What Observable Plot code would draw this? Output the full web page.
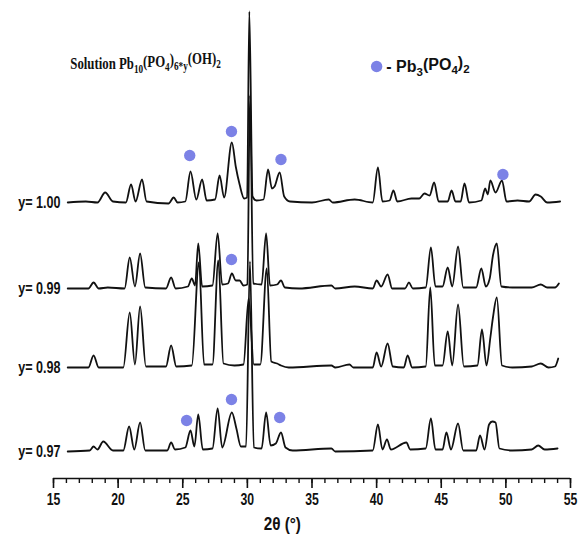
<!DOCTYPE html>
<html>
<head>
<meta charset="utf-8">
<script src="https://cdn.jsdelivr.net/npm/d3@7"></script>
<script src="https://cdn.jsdelivr.net/npm/@observablehq/plot@0.6"></script>
<style>
  html, body { margin: 0; padding: 0; background: #fff; }
  #chart { width: 580px; height: 546px; }
</style>
</head>
<body>
<div id="chart"></div>
<script>
// ---- Data (2θ in degrees, intensity in arbitrary units above each trace's baseline) ----
const sampleLabels = ["y= 1.00", "y= 0.99", "y= 0.98", "y= 0.97"];

const trace100 = [
  [16.1,0],[17.5,1],[18.4,0],[19.0,10],[19.6,1],[20.6,0],[21.0,18],[21.35,1],[21.85,23],[22.2,1],
  [23.9,-1],[24.3,5],[24.6,0],[25.2,1],[25.6,31],[26.05,3],[26.5,23],[26.85,2],[27.5,3],[27.85,27],
  [28.2,5],[28.8,60],[29.1,36],[29.4,18],[29.75,4],[29.98,5],[30.15,191],[30.4,6],[30.7,2],[31.25,3],
  [31.6,33],[31.9,14],[32.1,16],[32.5,30],[32.85,6],[33.3,1],[35.0,0],[36.3,3],[36.6,0],[38.3,3],
  [39.7,0],[40.1,35],[40.45,1],[41.0,2],[41.3,12],[41.6,1],[42.7,4],[43.3,4],[43.7,9],[44.1,7],
  [44.45,20],[44.8,1],[45.5,1],[45.8,12],[46.1,1],[46.5,1],[46.8,19],[47.15,0],[48.1,2],[48.4,14],
  [48.6,8],[48.8,22],[49.2,10],[49.7,22],[50.05,1],[50.9,2],[51.8,1],[52.3,8],[52.7,6],[53.2,0],[54.2,1]
];
const trace099 = [
  [16.1,0],[17.7,0],[18.1,6],[18.5,0],[19.2,1],[20.5,0],[20.9,31],[21.3,2],[21.7,35],[22.1,1],
  [23.7,0],[24.1,11],[24.45,0],[25.4,2],[25.7,10],[25.95,3],[26.2,45],[26.5,2],[27.3,3],[27.7,55],
  [28.05,4],[28.5,5],[28.8,15],[29.1,8],[29.4,8],[29.7,3],[30.0,4],[30.2,193],[30.45,5],[31.1,4],
  [31.45,55],[31.75,3],[32.3,4],[32.6,8],[32.9,1],[34.0,0],[36.5,3],[36.8,0],[38.3,2],[39.7,0],
  [40.0,8],[40.35,2],[40.85,14],[41.2,0],[42.2,0],[42.5,6],[42.8,0],[43.8,1],[44.2,41],[44.55,2],
  [45.1,2],[45.5,21],[45.85,2],[46.3,42],[46.7,1],[47.7,1],[48.1,20],[48.45,2],[48.75,10],[49.0,33],
  [49.3,45],[49.65,2],[50.5,1],[52.0,1],[52.7,4],[53.2,1],[53.8,1],[54.1,5]
];
const trace098 = [
  [16.1,0],[17.7,0],[18.1,12],[18.5,0],[20.4,0],[20.9,55],[21.3,3],[21.7,61],[22.15,1],[23.7,1],
  [24.1,22],[24.5,1],[25.7,2],[26.25,105],[26.65,3],[27.3,3],[27.75,107],[28.15,4],[29.0,2],[29.7,3],
  [30.1,69],[30.5,3],[31.0,3],[31.5,99],[31.85,6],[32.3,4],[32.6,2],[33.2,0],[36.5,2],[36.8,0],
  [37.9,3],[38.2,0],[39.7,0],[40.0,15],[40.35,1],[40.85,24],[41.25,1],[42.1,0],[42.4,12],[42.75,0],
  [43.8,1],[44.15,80],[44.5,2],[45.1,2],[45.5,36],[45.85,2],[46.3,63],[46.75,1],[47.8,2],[48.15,38],
  [48.5,2],[48.8,30],[49.0,50],[49.3,70],[49.7,2],[50.5,0],[52.0,1],[52.7,4],[53.3,0],[53.8,1],[54.05,9]
];
const trace097 = [
  [16.1,0],[17.8,1],[18.1,5],[18.4,2],[18.85,10],[19.6,1],[20.4,1],[20.85,25],[21.25,2],[21.7,29],
  [22.1,1],[23.8,1],[24.1,9],[24.4,2],[25.2,4],[25.6,21],[25.9,5],[26.2,37],[26.55,2],[27.3,3],
  [27.7,43],[28.05,4],[28.8,39],[29.15,23],[29.5,5],[29.9,5],[30.2,190],[30.5,4],[31.1,3],[31.45,39],
  [31.8,6],[32.2,8],[32.6,19],[32.95,4],[33.5,1],[36.5,3],[36.8,0],[39.7,1],[40.1,27],[40.45,2],
  [40.8,12],[41.1,2],[42.3,9],[42.6,2],[43.8,3],[44.2,33],[44.55,2],[45.1,2],[45.4,19],[45.75,2],
  [46.3,28],[46.7,1],[47.7,1],[48.0,16],[48.35,2],[48.7,27],[48.95,30],[49.2,29],[49.5,3],[50.5,1],
  [52.0,2],[52.5,6],[53.0,2],[54.0,3]
];

// Pb3(PO4)2 reflections marked with dots: [2θ, intensity above baseline]
const dots100 = [[25.54,47],[28.77,71],[32.6,43],[49.77,28]];
const dots099 = [[28.77,29]];
const dots098 = [];
const dots097 = [[25.3,31],[28.77,52],[32.5,34]];

const majorTicks = [15, 20, 25, 30, 35, 40, 45, 50, 55];
const titleText = "Solution Pb10(PO4)6*y(OH)2";
const legendText = "- Pb3(PO4)2";
const axisTitle = "2θ (°)";

// ---- Layout (stacking offsets kept apart from the data) ----
const traces = [trace100, trace099, trace098, trace097];
const dotSets = [dots100, dots099, dots098, dots097];
const offsets = [276, 190, 111, 27];

const lineData = traces.flatMap((t, i) => t.map(([x, h]) => ({x, y: h + offsets[i], s: sampleLabels[i]})));
const dotData = dotSets.flatMap((t, i) => t.map(([x, h]) => ({x, y: h + offsets[i]})));
const labelData = sampleLabels.map((s, i) => ({s, y: offsets[i]}));

const dotColor = "#7c82e6";
const sans = "'Liberation Sans', Arial, sans-serif";

const plot = Plot.plot({
  width: 580,
  height: 546,
  marginLeft: 53,
  marginRight: 10,
  marginTop: 0,
  marginBottom: 68,
  style: {background: "#fff", color: "#111", fontFamily: sans},
  x: {domain: [15, 55], label: null},
  y: {domain: [0, 478], axis: null},
  marks: [
    Plot.ruleY([0], {stroke: "#111", strokeWidth: 1.6}),
    Plot.axisX(d3.range(15, 56, 1), {tickSize: 5, text: null, label: null, strokeWidth: 1.4, stroke: "#111"}),
    Plot.axisX(majorTicks, {tickSize: 10, tickPadding: 4, strokeWidth: 1.6, stroke: "#111",
      fontSize: 17, fontWeight: "bold", fontFamily: sans, fill: "#111", label: null}),
    Plot.text([axisTitle], {x: () => 32.7, y: () => -46, text: d => d, fontSize: 18,
      fontWeight: "bold", fontFamily: sans, fill: "#111"}),
    Plot.line(lineData, {x: "x", y: "y", z: "s", curve: "monotone-x", stroke: "#111", strokeWidth: 1.8}),
    Plot.dot(dotData, {x: "x", y: "y", r: 5.7, fill: dotColor, stroke: "none"}),
    Plot.text(labelData, {x: () => 15, y: "y", text: "s", dx: 7, textAnchor: "end", fontSize: 17,
      fontWeight: "bold", fontFamily: sans, fill: "#111"}),
    Plot.text([titleText], {x: () => 16.3, y: () => 415, text: d => d, textAnchor: "start",
      fontSize: 16, fontWeight: "bold", fontFamily: "'Liberation Serif', 'Times New Roman', serif", fill: "#111"}),
    Plot.dot([0], {x: () => 40.0, y: () => 412, r: 5.7, fill: dotColor, stroke: "none"}),
    Plot.text([legendText], {x: () => 40.75, y: () => 412, text: d => d, textAnchor: "start",
      fontSize: 16, fontWeight: "bold", fontFamily: sans, fill: "#111"})
  ]
});

document.getElementById("chart").appendChild(plot);

// Render subscripts as real text tspans
function subscriptify(root, full, parts) {
  d3.select(root).selectAll("text").filter(function() { return this.textContent === full; })
    .each(function() {
      const t = d3.select(this);
      t.text(null);
      let sub = false;
      parts.forEach(([s, isSub]) => {
        const ts = t.append("tspan").text(s);
        if (isSub) ts.attr("font-size", "72%");
        if (isSub && !sub) ts.attr("dy", "0.38em");
        if (!isSub && sub) ts.attr("dy", "-0.38em");
        sub = isSub;
      });
    });
}
// Condense text horizontally around its anchor (the reference uses a narrow typeface)
function condense(root, contents, factor) {
  d3.select(root).selectAll("text").filter(function() { return contents.includes(this.textContent); })
    .each(function() {
      const tr = this.getAttribute("transform");
      if (tr && /translate/.test(tr)) {
        this.setAttribute("transform", tr + ` scale(${factor},1)`);
      } else {
        const L = this.getComputedTextLength();
        this.setAttribute("textLength", (L * factor).toFixed(1));
        this.setAttribute("lengthAdjust", "spacingAndGlyphs");
      }
    });
}
condense(plot, majorTicks.map(String), 0.72);
condense(plot, sampleLabels, 0.74);
condense(plot, [axisTitle], 0.85);
condense(plot, [titleText], 0.8);
subscriptify(plot, titleText, [["Solution Pb", 0], ["10", 1], ["(PO", 0], ["4", 1], [")", 0], ["6*y", 1], ["(OH)", 0], ["2", 1]]);
subscriptify(plot, legendText, [["- Pb", 0], ["3", 1], ["(PO", 0], ["4", 1], [")", 0], ["2", 1]]);
</script>
</body>
</html>
